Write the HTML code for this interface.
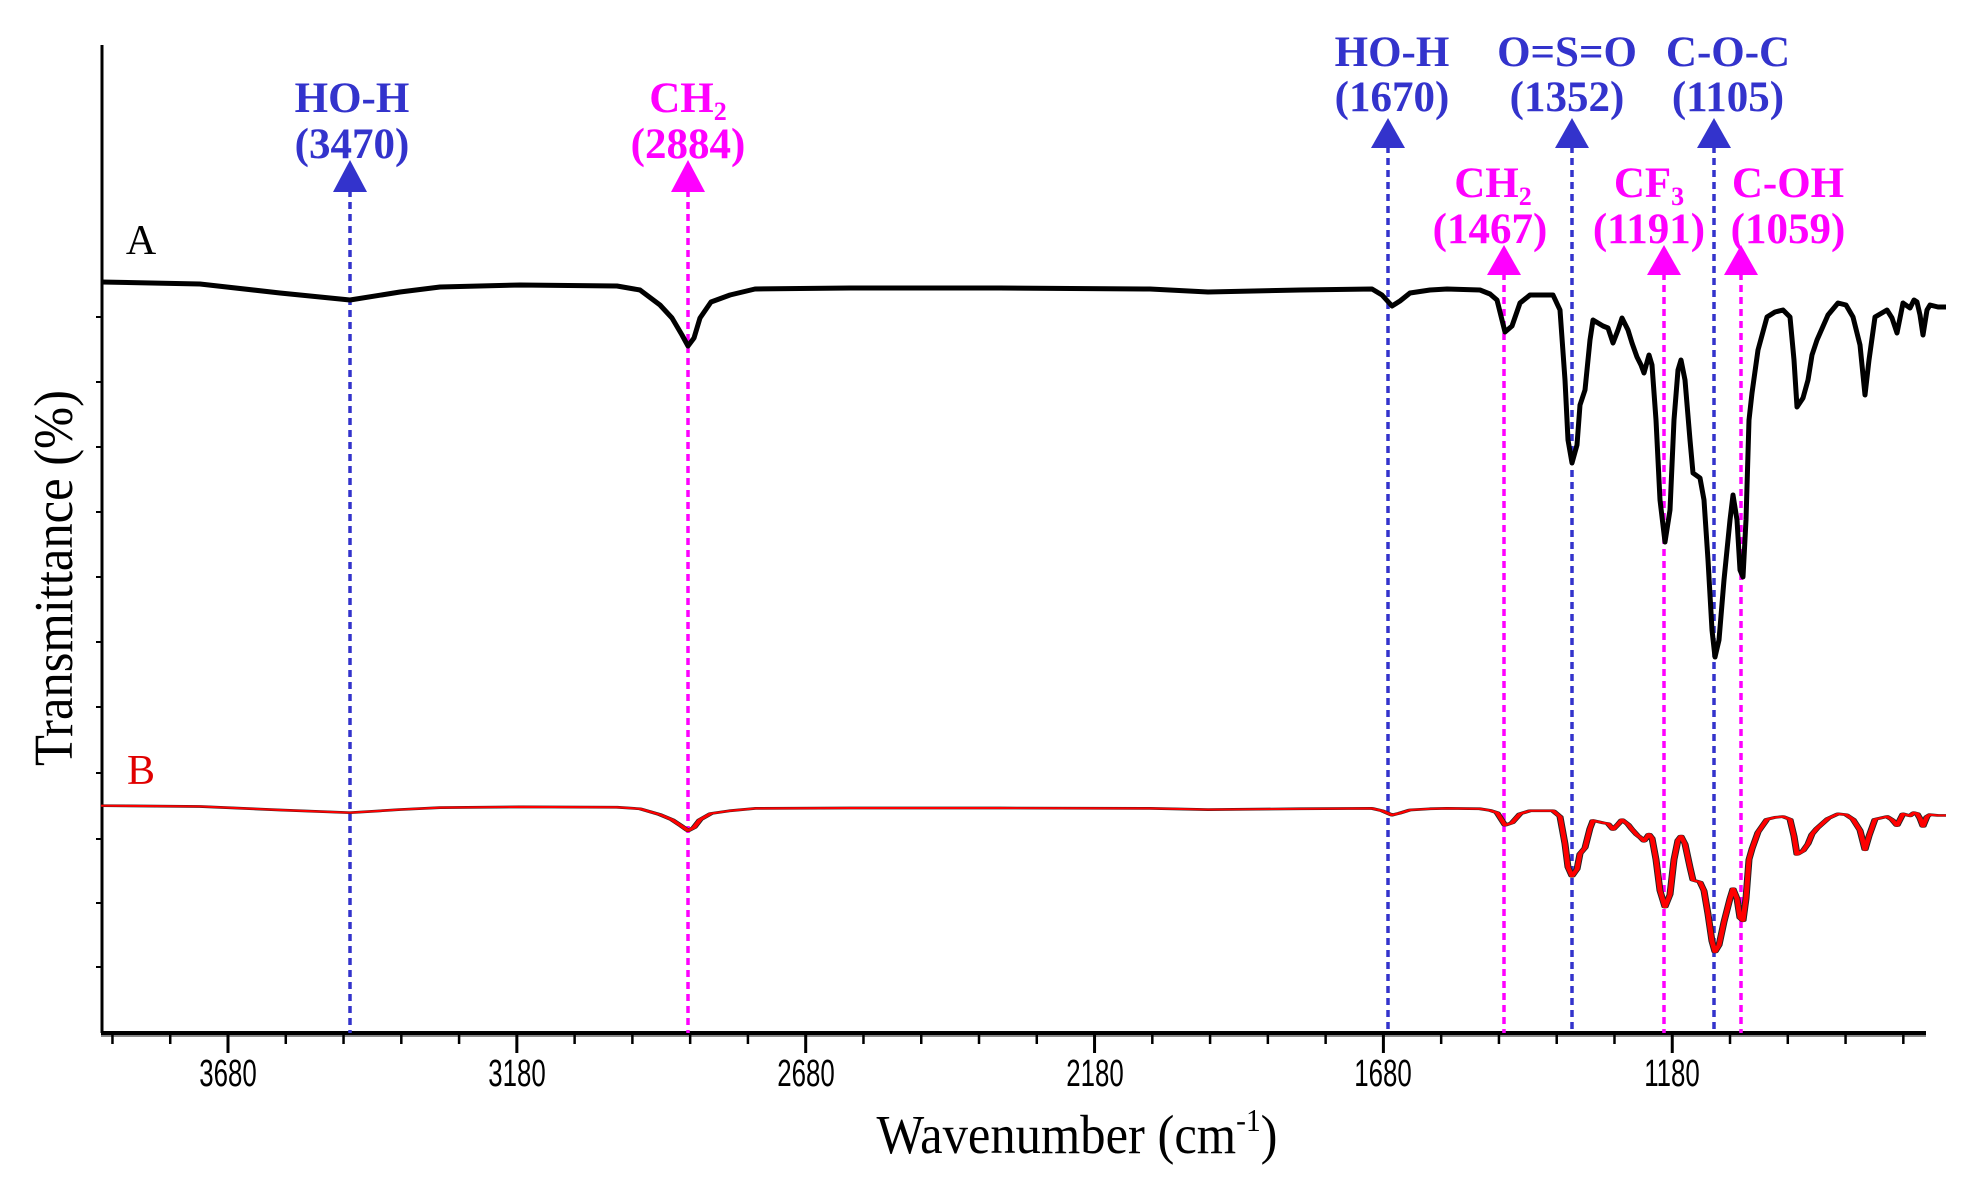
<!DOCTYPE html>
<html><head><meta charset="utf-8"><style>
html,body{margin:0;padding:0;background:#fff;}
svg{display:block}
.lb{font-family:"Liberation Serif",serif;font-weight:bold;font-size:43px;text-anchor:middle}
.tk{font-family:"Liberation Sans",sans-serif;font-size:38px;text-anchor:middle}
</style></head><body>
<svg width="1966" height="1179" viewBox="0 0 1966 1179" xmlns="http://www.w3.org/2000/svg">
<defs>
<path id="A" d="M101,282 L200,284 L280,293 L350,300 L400,292 L440,287 L520,285 L617,286 L640,290 L660,305 L672,318 L682,335 L688,346 L694,338 L700,318 L711,302 L730,295 L755,289 L850,288 L1000,288 L1150,289 L1208,292 L1300,290 L1372,289 L1382,295 L1392,306 L1400,301 L1410,293 L1430,290 L1447,289 L1480,290 L1490,294 L1497,300 L1505,332 L1512,326 L1520,303 L1530,295 L1553,295 L1560,310 L1565,380 L1568,440 L1572,463 L1577,445 L1580,405 L1585,390 L1590,340 L1593,320 L1603,326 L1608,328 L1613,343 L1618,330 L1622,318 L1628,330 L1632,343 L1637,357 L1641,365 L1644,373 L1649,355 L1652,365 L1656,420 L1660,500 L1665,542 L1670,510 L1674,420 L1678,370 L1681,360 L1685,380 L1690,440 L1693,473 L1700,478 L1704,500 L1708,560 L1712,630 L1715,657 L1719,640 L1724,580 L1730,520 L1733,495 L1737,520 L1740,570 L1743,577 L1746,520 L1749,420 L1752,393 L1758,350 L1767,317 L1775,312 L1783,310 L1790,317 L1794,360 L1797,407 L1803,398 L1808,380 L1812,355 L1817,340 L1828,315 L1838,303 L1846,305 L1853,317 L1860,345 L1865,395 L1869,360 L1875,317 L1887,310 L1892,318 L1897,333 L1903,303 L1910,308 L1914,300 L1917,302 L1920,315 L1923,335 L1927,310 L1930,305 L1938,307 L1946,307"/>
</defs>
<!-- axes -->
<line x1="102" y1="45" x2="102" y2="1033" stroke="#000" stroke-width="3"/>
<line x1="101" y1="1033" x2="1926" y2="1033" stroke="#000" stroke-width="4"/>
<line x1="101" y1="1036" x2="1926" y2="1036" stroke="#888" stroke-width="2"/>
<g stroke="#000" stroke-width="2">
<line x1="96" y1="317" x2="102" y2="317"/><line x1="96" y1="382" x2="102" y2="382"/><line x1="96" y1="447" x2="102" y2="447"/><line x1="96" y1="512" x2="102" y2="512"/><line x1="96" y1="577" x2="102" y2="577"/><line x1="96" y1="642" x2="102" y2="642"/><line x1="96" y1="707" x2="102" y2="707"/><line x1="96" y1="773" x2="102" y2="773"/><line x1="96" y1="839" x2="102" y2="839"/><line x1="96" y1="903" x2="102" y2="903"/><line x1="96" y1="967" x2="102" y2="967"/>
</g>
<g stroke="#000" stroke-width="2" id="xt"></g>
<g class="tk" fill="#000">
<text x="228" y="1086" transform="translate(228,0) scale(0.68,1) translate(-228,0)">3680</text>
<text x="517" y="1086" transform="translate(517,0) scale(0.68,1) translate(-517,0)">3180</text>
<text x="806" y="1086" transform="translate(806,0) scale(0.68,1) translate(-806,0)">2680</text>
<text x="1095" y="1086" transform="translate(1095,0) scale(0.68,1) translate(-1095,0)">2180</text>
<text x="1383" y="1086" transform="translate(1383,0) scale(0.68,1) translate(-1383,0)">1680</text>
<text x="1672" y="1086" transform="translate(1672,0) scale(0.68,1) translate(-1672,0)">1180</text>
</g>
<text x="1077" y="1153" font-family="Liberation Serif,serif" font-size="55" text-anchor="middle" transform="translate(1077,0) scale(0.92,1) translate(-1077,0)">Wavenumber (cm<tspan dy="-22" font-size="32">-1</tspan><tspan dy="22">)</tspan></text>
<text x="0" y="0" font-family="Liberation Serif,serif" font-size="55" text-anchor="middle" transform="translate(72,578) rotate(-90) scale(0.92,1)">Transmittance (%)</text>
<text x="141" y="254" font-family="Liberation Serif,serif" font-size="42" text-anchor="middle">A</text>
<text x="141" y="784" font-family="Liberation Serif,serif" font-size="42" text-anchor="middle" fill="#e00000">B</text>
<!-- dashed lines -->
<g stroke-width="3.5" stroke-dasharray="7,5" fill="none">
<line x1="350" y1="190" x2="350" y2="1033" stroke="#3333cc"/>
<line x1="688" y1="190" x2="688" y2="1033" stroke="#ff00ff"/>
<line x1="1388" y1="146" x2="1388" y2="1033" stroke="#3333cc"/>
<line x1="1504" y1="273" x2="1504" y2="1033" stroke="#ff00ff"/>
<line x1="1572" y1="146" x2="1572" y2="1033" stroke="#3333cc"/>
<line x1="1664" y1="273" x2="1664" y2="1033" stroke="#ff00ff"/>
<line x1="1714" y1="146" x2="1714" y2="1033" stroke="#3333cc"/>
<line x1="1741" y1="273" x2="1741" y2="1033" stroke="#ff00ff"/>
</g>
<!-- arrows -->
<g>
<polygon points="350,160 333,192 367,192" fill="#3333cc"/>
<polygon points="688,160 671,192 705,192" fill="#ff00ff"/>
<polygon points="1388,118 1371,148 1405,148" fill="#3333cc"/>
<polygon points="1572,118 1555,148 1589,148" fill="#3333cc"/>
<polygon points="1714,118 1697,148 1731,148" fill="#3333cc"/>
<polygon points="1504,245 1487,275 1521,275" fill="#ff00ff"/>
<polygon points="1664,245 1647,275 1681,275" fill="#ff00ff"/>
<polygon points="1741,245 1724,275 1758,275" fill="#ff00ff"/>
</g>
<!-- labels -->
<g class="lb" fill="#3333cc">
<text x="352" y="112">HO-H</text><text x="352" y="158">(3470)</text>
<text x="1392" y="66">HO-H</text><text x="1392" y="111">(1670)</text>
<text x="1567" y="66">O=S=O</text><text x="1567" y="111">(1352)</text>
<text x="1728" y="66">C-O-C</text><text x="1728" y="111">(1105)</text>
</g>
<g class="lb" fill="#ff00ff">
<text x="688" y="112">CH<tspan font-size="26" dy="8">2</tspan></text><text x="688" y="158">(2884)</text>
<text x="1493" y="197">CH<tspan font-size="26" dy="8">2</tspan></text><text x="1490" y="243">(1467)</text>
<text x="1649" y="197">CF<tspan font-size="26" dy="8">3</tspan></text><text x="1649" y="243">(1191)</text>
<text x="1788" y="197">C-OH</text><text x="1788" y="243">(1059)</text>
</g>
<!-- spectra -->
<use href="#A" fill="none" stroke="#000" stroke-width="5" stroke-linejoin="round"/>
<g transform="translate(0,695.7) scale(1,0.39)">
<use href="#A" fill="none" stroke="#222" stroke-width="7" vector-effect="non-scaling-stroke" stroke-linejoin="round"/>
<use href="#A" fill="none" stroke="#ff0000" stroke-width="5" vector-effect="non-scaling-stroke" stroke-linejoin="round"/>
</g>
</svg>
<script>
(function(){var g=document.getElementById('xt'),ns='http://www.w3.org/2000/svg';
for(var w=3880;w>=780;w-=100){var x=228+(3680-w)*0.5777;var maj=((3680-w)%500===0);
var l=document.createElementNS(ns,'line');l.setAttribute('x1',x);l.setAttribute('x2',x);l.setAttribute('y1',1033);l.setAttribute('y2',maj?1053:1044);l.setAttribute('stroke-width',maj?3:2.5);g.appendChild(l);}})();
</script>
</body></html>
